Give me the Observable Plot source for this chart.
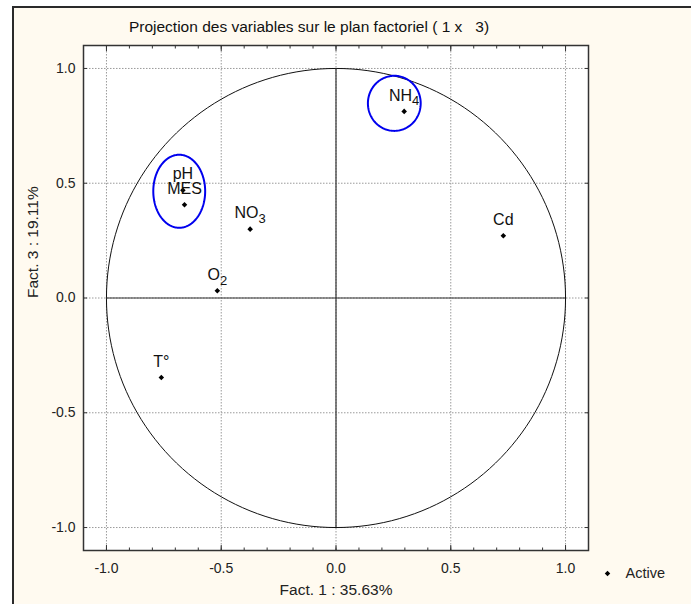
<!DOCTYPE html>
<html><head><meta charset="utf-8">
<script src="https://cdn.jsdelivr.net/npm/d3@7"></script>
<script src="https://cdn.jsdelivr.net/npm/@observablehq/plot@0.6"></script>
<style>
body{margin:0;background:#fff;}
#wrap{position:relative;width:691px;height:604px;overflow:hidden;}
#panel{position:absolute;left:12px;top:6px;width:700px;height:620px;border-top:2px solid #2a2a2a;border-left:2px solid #2a2a2a;background:#fffaf0;}
#chart{position:absolute;left:0;top:0;}
</style></head><body>
<div id="wrap"><div id="panel"></div><div id="chart"></div></div>
<script>
const variables = ["pH", "MES", "NO3", "NH4", "O2", "T°", "Cd"];
const fact1 = [-0.667, -0.660, -0.374, 0.297, -0.517, -0.761, 0.729];
const fact3 = [0.469, 0.406, 0.300, 0.813, 0.032, -0.346, 0.271];
const majorTicks = [-1.0, -0.5, 0.0, 0.5, 1.0];
const tickLabels = ["-1.0", "-0.5", "0.0", "0.5", "1.0"];
const minorTicks = [-1.0, -0.9, -0.8, -0.7, -0.6, -0.5, -0.4, -0.3, -0.2, -0.1, 0.0, 0.1, 0.2, 0.3, 0.4, 0.5, 0.6, 0.7, 0.8, 0.9, 1.0];
const highlightCx = [-0.683, 0.254];
const highlightCy = [0.465, 0.848];
const highlightRx = [0.113, 0.115];
const highlightRy = [0.159, 0.120];
const circleRadius = 1;
const titleText = "Projection des variables sur le plan factoriel ( 1 x   3)";
const xLabel = "Fact. 1 : 35.63%";
const yLabel = "Fact. 3 : 19.11%";
const legendLabel = "Active";

const points = variables.map((v, i) => ({name: v, x: fact1[i], y: fact3[i]}));
const angles = d3.range(0, 361, 2).map(a => a * Math.PI / 180);
const circlePts = angles.map(a => ({x: circleRadius * Math.cos(a), y: circleRadius * Math.sin(a)}));
const ellipsePts = highlightCx.flatMap((cx, i) => angles.map(a => ({id: i, x: cx + highlightRx[i] * Math.cos(a), y: highlightCy[i] + highlightRy[i] * Math.sin(a)})));
const ticksTable = majorTicks.map((t, i) => ({v: t, label: tickLabels[i]}));

const font = "'Liberation Sans', Arial, sans-serif";
const chart = Plot.plot({
  width: 691, height: 604,
  marginLeft: 83, marginRight: 103, marginTop: 45, marginBottom: 54,
  x: {domain: [-1.1, 1.1], axis: null},
  y: {domain: [-1.1, 1.1], axis: null},
  style: {background: "transparent", fontFamily: font, overflow: "visible"},
  marks: [
    Plot.frame({fill: "white"}),
    Plot.ruleX(majorTicks, {stroke: "#9a9a9a", strokeDasharray: "1.5,1.5"}),
    Plot.ruleY(majorTicks, {stroke: "#9a9a9a", strokeDasharray: "1.5,1.5"}),
    Plot.line(circlePts, {x: "x", y: "y", stroke: "#111", strokeWidth: 1}),
    Plot.ruleY([0], {x1: -circleRadius, x2: circleRadius, stroke: "#333", strokeWidth: 1.2}),
    Plot.ruleX([0], {y1: -circleRadius, y2: circleRadius, stroke: "#333", strokeWidth: 1.2}),
    Plot.line(ellipsePts, {x: "x", y: "y", z: "id", stroke: "#0000ee", strokeWidth: 2}),
    Plot.dot(points, {x: "x", y: "y", symbol: "diamond2", r: 2.5, fill: "#000"}),
    Plot.text(points, {x: "x", y: "y", text: "name", dy: -16, fontSize: 16, fill: "#111"}),
    Plot.axisX({anchor: "bottom", ticks: minorTicks, tickSize: -2.5, tickFormat: () => "", label: null, stroke: "#333"}),
    Plot.axisX({anchor: "top", ticks: minorTicks, tickSize: -2.5, tickFormat: () => "", label: null, stroke: "#333"}),
    Plot.axisX({anchor: "bottom", ticks: majorTicks, tickSize: -5, tickFormat: () => "", label: null, stroke: "#333"}),
    Plot.axisX({anchor: "top", ticks: majorTicks, tickSize: -5, tickFormat: () => "", label: null, stroke: "#333"}),
    Plot.axisY({anchor: "left", ticks: majorTicks, tickSize: -4, tickFormat: () => "", label: null, stroke: "#333"}),
    Plot.axisY({anchor: "right", ticks: majorTicks, tickSize: -4, tickFormat: () => "", label: null, stroke: "#333"}),
    Plot.text(ticksTable, {x: "v", text: "label", frameAnchor: "bottom", lineAnchor: "middle", dy: 18, fontSize: 14, fill: "#222"}),
    Plot.text(ticksTable, {y: "v", text: "label", frameAnchor: "left", lineAnchor: "middle", dx: -8, textAnchor: "end", fontSize: 14, fill: "#222"}),
    Plot.text([titleText], {frameAnchor: "top", lineAnchor: "middle", dx: -27, dy: -18, fontSize: 15.5, fill: "#111"}),
    Plot.text([xLabel], {frameAnchor: "bottom", lineAnchor: "middle", dy: 40, fontSize: 15.5, fill: "#222"}),
    Plot.text([yLabel], {frameAnchor: "left", lineAnchor: "middle", dx: -50, rotate: -90, fontSize: 15.5, fill: "#222"}),
    Plot.dot([legendLabel], {frameAnchor: "bottom-right", dx: 19, dy: 23, symbol: "diamond2", r: 2.5, fill: "#000"}),
    Plot.text([legendLabel], {frameAnchor: "bottom-right", lineAnchor: "middle", dx: 37, dy: 23, textAnchor: "start", fontSize: 14.5, fill: "#222"}),
    Plot.frame({stroke: "#333", strokeWidth: 1.5})
  ]
});
d3.select(chart).selectAll("text").each(function() {
  const t = d3.select(this);
  const s = this.textContent;
  const m = /^([A-Za-z]+)(\d)$/.exec(s);
  if (m && variables.includes(s)) {
    t.text(null);
    t.append("tspan").text(m[1]);
    t.append("tspan").attr("dy", "0.38em").attr("font-size", "13px").text(m[2]);
  }
});
document.getElementById("chart").appendChild(chart);
</script>
</body></html>
